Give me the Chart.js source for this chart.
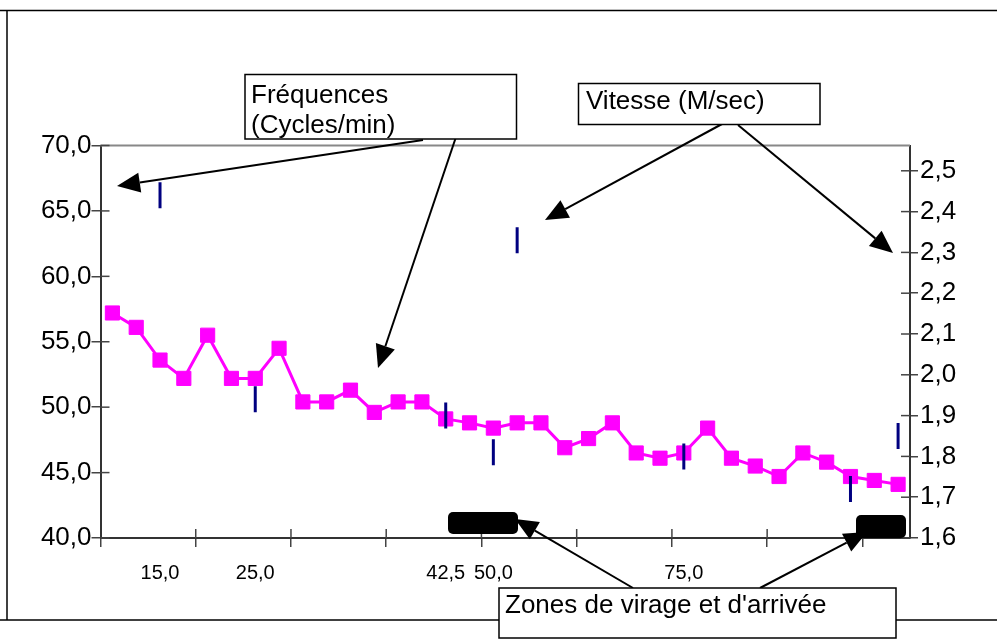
<!DOCTYPE html>
<html><head><meta charset="utf-8">
<script src="https://cdn.jsdelivr.net/npm/chart.js@4.4.1/dist/chart.umd.min.js"></script>
<style>html,body{margin:0;padding:0;background:#fff;overflow:hidden}</style>
</head><body>
<canvas id="c" width="997" height="640"></canvas>
<script>
// ---- data ----
const categories = ["","","15,0","","","","25,0","","","","","","","","42,5","","50,0","","","","","","","","75,0","","","","","","","","",""];
const frequences = [57.2,56.1,53.6,52.2,55.5,52.2,52.2,54.5,50.4,50.4,51.3,49.6,50.4,50.4,49.1,48.8,48.4,48.8,48.8,46.9,47.6,48.8,46.5,46.1,46.5,48.4,46.1,45.5,44.7,46.5,45.8,44.7,44.4,44.1];
const vitesse = [null,null,2.44,null,null,null,1.94,null,null,null,null,null,null,null,1.90,null,1.81,2.33,null,null,null,null,null,null,1.80,null,null,null,null,null,null,1.72,null,1.85];
const leftAxis = {min: 40, max: 70, step: 5};
const rightAxis = {min: 1.6, max: 2.562, step: 0.1};
const labelFreq = ["Fréquences", "(Cycles/min)"];
const labelVit = "Vitesse (M/sec)";
const labelZones = "Zones de virage et d'arrivée";

const FONT = "'Liberation Sans', Arial, sans-serif";
const fmt = v => Number(v).toFixed(1).replace('.', ',');

function arrow(ctx, x1, y1, x2, y2) {
  ctx.save();
  ctx.strokeStyle = '#000'; ctx.fillStyle = '#000'; ctx.lineWidth = 2;
  const a = Math.atan2(y2 - y1, x2 - x1);
  const L = 23, W = 10;
  const bx = x2 - Math.cos(a) * L, by = y2 - Math.sin(a) * L;
  ctx.beginPath(); ctx.moveTo(x1, y1); ctx.lineTo(bx, by); ctx.stroke();
  ctx.beginPath();
  ctx.moveTo(x2, y2);
  ctx.lineTo(bx + Math.sin(a) * W, by - Math.cos(a) * W);
  ctx.lineTo(bx - Math.sin(a) * W, by + Math.cos(a) * W);
  ctx.closePath(); ctx.fill();
  ctx.restore();
}
function box(ctx, x, y, w, h, lines, tx, ty, lh) {
  ctx.save();
  ctx.fillStyle = '#fff'; ctx.fillRect(x, y, w, h);
  ctx.strokeStyle = '#000'; ctx.lineWidth = 1.5; ctx.strokeRect(x, y, w, h);
  ctx.fillStyle = '#000'; ctx.font = '26px ' + FONT; ctx.textBaseline = 'alphabetic'; ctx.textAlign = 'left';
  lines.forEach((t, i) => ctx.fillText(t, tx, ty + i * lh));
  ctx.restore();
}
function blob(ctx, x, y, w, h) {
  ctx.save(); ctx.fillStyle = '#000';
  ctx.beginPath();
  if (ctx.roundRect) ctx.roundRect(x, y, w, h, 5); else ctx.rect(x, y, w, h);
  ctx.fill(); ctx.restore();
}

const deco = {
  id: 'deco',
  afterDraw(chart) {
    const ctx = chart.ctx, ca = chart.chartArea;
    const sx = chart.scales.x, sy = chart.scales.y, sy1 = chart.scales.y1;
    ctx.save();
    // top border of plot area
    ctx.strokeStyle = '#888'; ctx.lineWidth = 2;
    ctx.beginPath(); ctx.moveTo(ca.left, ca.top); ctx.lineTo(ca.right, ca.top); ctx.stroke();
    // inner parts of crossing tick marks
    ctx.strokeStyle = '#444'; ctx.lineWidth = 1.5;
    sy.ticks.forEach((t, i) => { const y = sy.getPixelForTick(i); ctx.beginPath(); ctx.moveTo(ca.left, y); ctx.lineTo(ca.left + 9, y); ctx.stroke(); });
    sy1.ticks.forEach((t, i) => { const y = sy1.getPixelForTick(i); ctx.beginPath(); ctx.moveTo(ca.right - 9, y); ctx.lineTo(ca.right, y); ctx.stroke(); });
    const half = (sx.getPixelForValue(1) - sx.getPixelForValue(0)) / 2;
    for (let i = 4; i < categories.length; i += 4) {
      const x = sx.getPixelForValue(i) - half;
      ctx.beginPath(); ctx.moveTo(x, ca.bottom); ctx.lineTo(x, ca.bottom - 9); ctx.stroke();
    }
    ctx.restore();
    // turning / finish zones
    blob(ctx, 448, 512, 70, 22);
    blob(ctx, 856, 515, 50, 23);
    // outer frame
    ctx.save(); ctx.strokeStyle = '#000'; ctx.lineWidth = 1.5;
    ctx.beginPath(); ctx.moveTo(0, 10.5); ctx.lineTo(997, 10.5); ctx.stroke();
    ctx.beginPath(); ctx.moveTo(7, 10); ctx.lineTo(7, 620); ctx.stroke();
    ctx.beginPath(); ctx.moveTo(0, 620); ctx.lineTo(997, 620); ctx.stroke();
    ctx.restore();
    // arrows
    arrow(ctx, 423, 140, 117, 186);
    arrow(ctx, 457, 134, 378, 368);
    arrow(ctx, 722, 124, 545, 220);
    arrow(ctx, 738, 125, 893, 253);
    arrow(ctx, 633, 588, 515, 519);
    arrow(ctx, 760, 588, 867, 532);
    // text boxes
    box(ctx, 245, 74.5, 271.5, 64.5, labelFreq, 251, 102.5, 30.5);
    box(ctx, 578.5, 83.5, 241.5, 41, [labelVit], 586, 108.5, 0);
    box(ctx, 499, 588, 397, 50, [labelZones], 505, 613, 0);
  }
};

new Chart(document.getElementById('c'), {
  type: 'line',
  data: {
    labels: categories,
    datasets: [
      {
        label: 'Vitesse', data: vitesse, yAxisID: 'y1', showLine: false, order: 0,
        pointStyle: 'line', rotation: 90, pointRadius: 13, pointHoverRadius: 13,
        pointBorderColor: '#000080', pointBackgroundColor: '#000080', pointBorderWidth: 3, borderColor: '#000080'
      },
      {
        label: 'Fréquences', data: frequences, yAxisID: 'y', order: 1,
        borderColor: '#ff00ff', borderWidth: 3, tension: 0,
        pointStyle: 'rect', pointRadius: 10, pointHoverRadius: 10,
        pointBackgroundColor: '#ff00ff', pointBorderColor: '#ff00ff', pointBorderWidth: 1
      }
    ]
  },
  options: {
    responsive: false, animation: false, devicePixelRatio: 1,
    layout: {padding: {top: 145.5, left: 0, right: 0, bottom: 0}},
    plugins: {legend: {display: false}, tooltip: {enabled: false}},
    events: [],
    scales: {
      x: {
        type: 'category', offset: true,
        grid: {offset: true, drawOnChartArea: false, tickLength: 9, lineWidth: 1.5,
          color: c => (c.index !== undefined && c.index % 4 === 0) ? '#444' : 'rgba(0,0,0,0)'},
        border: {display: true, color: '#333', width: 2},
        ticks: {autoSkip: false, maxRotation: 0, minRotation: 0, padding: 14, color: '#000', font: {family: FONT, size: 20}},
        afterFit: s => { s.height = 102; }
      },
      y: {
        position: 'left', min: leftAxis.min, max: leftAxis.max,
        grid: {drawOnChartArea: false, tickLength: 9, color: '#444', lineWidth: 1.5},
        border: {display: true, color: '#333', width: 2},
        ticks: {stepSize: leftAxis.step, autoSkip: false, padding: 0, color: '#000', font: {family: FONT, size: 26}, callback: v => fmt(v)},
        afterFit: s => { s.width = 100.5; }
      },
      y1: {
        position: 'right', min: rightAxis.min, max: rightAxis.max,
        grid: {drawOnChartArea: false, tickLength: 8, color: '#444', lineWidth: 1.5},
        border: {display: true, color: '#333', width: 2},
        ticks: {stepSize: rightAxis.step, includeBounds: false, autoSkip: false, padding: 2, color: '#000', font: {family: FONT, size: 26}, callback: v => fmt(v)},
        afterFit: s => { s.width = 87; }
      }
    }
  },
  plugins: [deco]
});
</script>
</body></html>
